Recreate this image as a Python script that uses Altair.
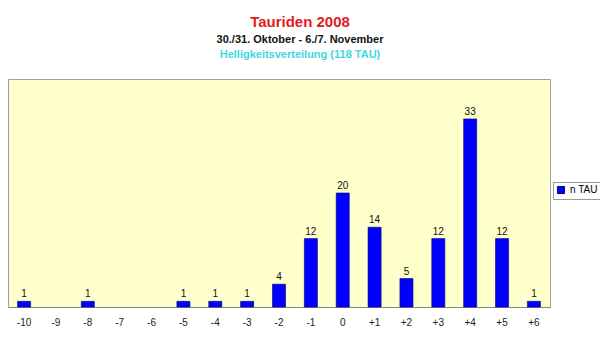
import altair as alt
import pandas as pd

categories = ["-10", "-9", "-8", "-7", "-6", "-5", "-4", "-3", "-2", "-1",
              "0", "+1", "+2", "+3", "+4", "+5", "+6"]
values = [1, 0, 1, 0, 0, 1, 1, 1, 4, 12, 20, 14, 5, 12, 33, 12, 1]
series = ["n TAU"] * len(categories)

df = pd.DataFrame({"mag": categories, "n": values, "series": series})
df_nz = df[df["n"] > 0]

x = alt.X("mag:N", sort=categories, title=None,
          scale=alt.Scale(domain=categories, paddingInner=0.59, paddingOuter=0.3),
          axis=alt.Axis(labelAngle=0, ticks=False, domainColor="#888888",
                        labelFont="Arial", labelFontSize=10, labelColor="#222222",
                        labelPadding=10))
y = alt.Y("n:Q", scale=alt.Scale(domain=[0, 40]), axis=None, title=None)

bars = alt.Chart(df_nz).mark_bar(stroke="#000080", strokeWidth=0.6).encode(
    x=x, y=y,
    color=alt.Color("series:N", scale=alt.Scale(domain=["n TAU"], range=["#0000FF"]),
                    legend=alt.Legend(title=None, orient="none", legendX=545, legendY=103,
                                      symbolType="square", symbolSize=50,
                                      labelFont="Arial", labelFontSize=10,
                                      strokeColor="#999999", padding=3,
                                      symbolStrokeColor="#000080", symbolStrokeWidth=1))
)

labels = alt.Chart(df_nz).mark_text(dy=-7, font="Arial", fontSize=10, color="#111111").encode(
    x=alt.X("mag:N", sort=categories, scale=alt.Scale(domain=categories)), y="n:Q", text="n:Q"
)

t1 = alt.Chart(pd.DataFrame({"t": ["Tauriden 2008"]})).mark_text(
    font="Arial", fontSize=15, fontWeight="bold", color="#E31A1C", align="center"
).encode(x=alt.value(292), y=alt.value(-57), text="t:N")
t2 = alt.Chart(pd.DataFrame({"t": ["30./31. Oktober - 6./7. November"]})).mark_text(
    font="Arial", fontSize=11, fontWeight="bold", color="#111111", align="center"
).encode(x=alt.value(292), y=alt.value(-39), text="t:N")
t3 = alt.Chart(pd.DataFrame({"t": ["Helligkeitsverteilung (118 TAU)"]})).mark_text(
    font="Arial", fontSize=11, fontWeight="bold", color="#40D8E0", align="center"
).encode(x=alt.value(292), y=alt.value(-24), text="t:N")

chart = alt.layer(bars, labels, t1, t2, t3).properties(
    width=542, height=228,
    autosize=alt.AutoSizeParams(type="none"),
    padding={"left": 8, "top": 79, "right": 50, "bottom": 31},
    background="white",
).configure_view(fill="#FFFFCC", stroke="#A0A0A0", strokeWidth=1)

chart.save("out.html", embed_options={"renderer": "svg", "actions": False})
